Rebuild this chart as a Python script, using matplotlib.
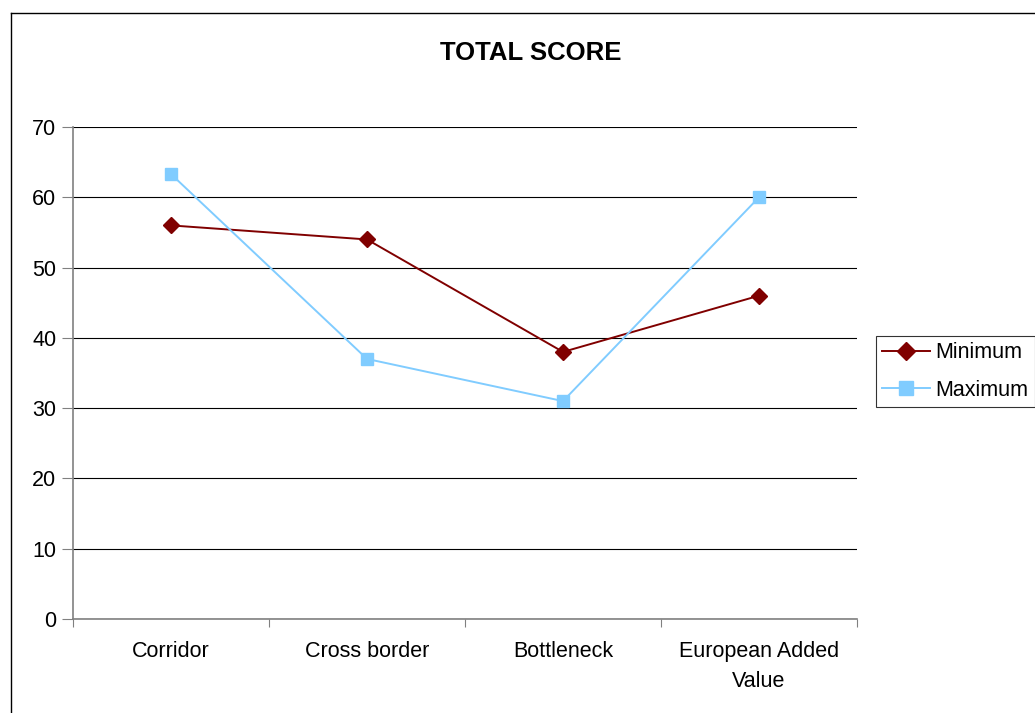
import numpy as np
import matplotlib.pyplot as plt
from matplotlib.lines import Line2D

plt.rcParams['font.family'] = ['Liberation Sans', 'DejaVu Sans']

# Chart data
categories = ['Corridor', 'Cross border', 'Bottleneck', 'European Added\nValue']
minimum = [56, 54, 38, 46]
maximum = [63.3, 37, 31, 60]
y_ticks = [0, 10, 20, 30, 40, 50, 60, 70]

W, H = 1035, 713
fig = plt.figure(figsize=(W / 100, H / 100), dpi=100)
ax = fig.add_axes([73 / W, 1 - 619 / H, (857 - 73) / W, (619 - 127) / H])

x = np.arange(len(categories))
ax.plot(x, minimum, color='#800000', marker='D', markersize=8, linewidth=1.4,
        label='Minimum', zorder=3)
ax.plot(x, maximum, color='#80CCFF', marker='s', markersize=9, linewidth=1.4,
        label='Maximum', zorder=3)

ax.set_xlim(-0.5, len(categories) - 0.5)
ax.set_ylim(0, 70)
ax.set_yticks(y_ticks)
ax.yaxis.grid(True, color='black', linewidth=0.8)
ax.set_axisbelow(True)

# category labels between boundary ticks
ax.set_xticks(np.arange(-0.5, len(categories), 1.0))
ax.set_xticklabels([])
ax.set_xticks(x, minor=True)
ax.set_xticklabels(categories, minor=True, fontsize=15.5, linespacing=1.55)
ax.tick_params(axis='x', which='minor', length=0, pad=16)
ax.tick_params(axis='x', which='major', length=6, color='#808080')
ax.tick_params(axis='y', length=8, color='#808080', labelsize=15.5, pad=4)

for s in ['top', 'right']:
    ax.spines[s].set_visible(False)
for s in ['left', 'bottom']:
    ax.spines[s].set_color('#808080')
    ax.spines[s].set_linewidth(1.2)

fig.text(531 / W, 1 - 53 / H, 'TOTAL SCORE', ha='center', va='center',
         fontsize=18.5, fontweight='bold')

leg = fig.legend(loc='upper left', bbox_to_anchor=(876 / W, 1 - 336 / H),
                 fontsize=15.5, frameon=True, fancybox=False, edgecolor='black',
                 handlelength=2.2, borderpad=0.3, labelspacing=0.75,
                 handletextpad=0.25, borderaxespad=0, markerscale=1.1)
leg.get_frame().set_linewidth(0.8)

# outer chart border (cropped on right and bottom)
fig.add_artist(Line2D([11 / W, 11 / W], [0, 1 - 13 / H], color='black', linewidth=1,
                      transform=fig.transFigure))
fig.add_artist(Line2D([11 / W, 1], [1 - 13 / H, 1 - 13 / H], color='black', linewidth=1,
                      transform=fig.transFigure))

fig.savefig('out.png', dpi=100)
